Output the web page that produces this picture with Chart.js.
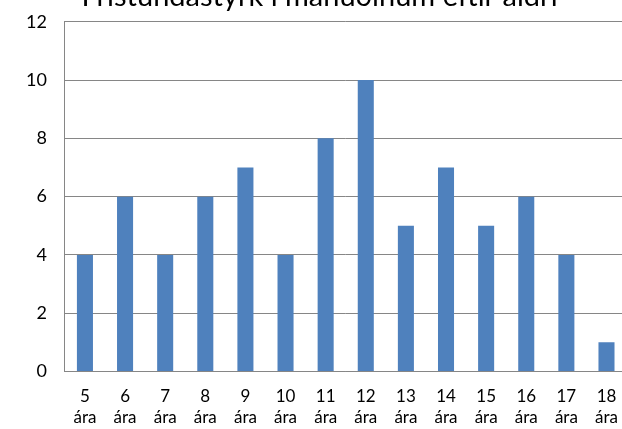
<!DOCTYPE html>
<html>
<head>
<meta charset="utf-8">
<script src="https://cdn.jsdelivr.net/npm/chart.js@4"></script>
<style>
  html, body { margin: 0; padding: 0; background: #fff; overflow: hidden; width: 622px; height: 429px; }
  #wrap { position: absolute; left: 0; top: -21px; }
</style>
</head>
<body>
<div id="wrap"><canvas id="chart" width="632" height="463"></canvas></div>
<script>
var ages = [5, 6, 7, 8, 9, 10, 11, 12, 13, 14, 15, 16, 17, 18];
var counts = [4, 6, 4, 6, 7, 4, 8, 10, 5, 7, 5, 6, 4, 1];
var yTicks = [0, 2, 4, 6, 8, 10, 12];
var titleText = "Frístundastyrk í mánuðinum eftir aldri";

var labels = ages.map((a) => [String(a), "ára"]);
var font = "Lato, 'Open Sans', sans-serif";

var ctx = document.getElementById("chart").getContext("2d");
new Chart(ctx, {
	type: "bar",
	data: {
		labels: labels,
		datasets: [
			{
				data: counts,
				backgroundColor: "#4F81BD",
				borderWidth: 0,
				barPercentage: 0.4,
				categoryPercentage: 1,
			},
		],
	},
	options: {
		responsive: false,
		animation: false,
		layout: { padding: { left: 8, right: 1, top: 0, bottom: 0 } },
		plugins: {
			legend: { display: false },
			tooltip: { enabled: false },
			title: {
				display: true,
				text: titleText,
				color: "#000",
				font: { family: font, size: 29, weight: "normal" },
				padding: { top: 0, bottom: 8 },
			},
		},
		scales: {
			x: {
				grid: { display: false, drawTicks: false },
				border: { display: true, color: "#868686", width: 1 },
				ticks: {
					color: "#000",
					font: { family: font, size: 17, lineHeight: 1.25 },
					padding: 14,
					maxRotation: 0,
					autoSkip: false,
				},
			},
			y: {
				min: yTicks[0],
				max: yTicks[yTicks.length - 1],
				grid: { color: "#868686", lineWidth: 1, drawTicks: false },
				border: { display: true, color: "#868686", width: 1 },
				afterBuildTicks: (axis) => {
					axis.ticks = yTicks.map((v) => ({ value: v }));
				},
				ticks: {
					color: "#000",
					font: { family: font, size: 18 },
					padding: 18,
				},
			},
		},
	},
});
</script>
</body>
</html>
